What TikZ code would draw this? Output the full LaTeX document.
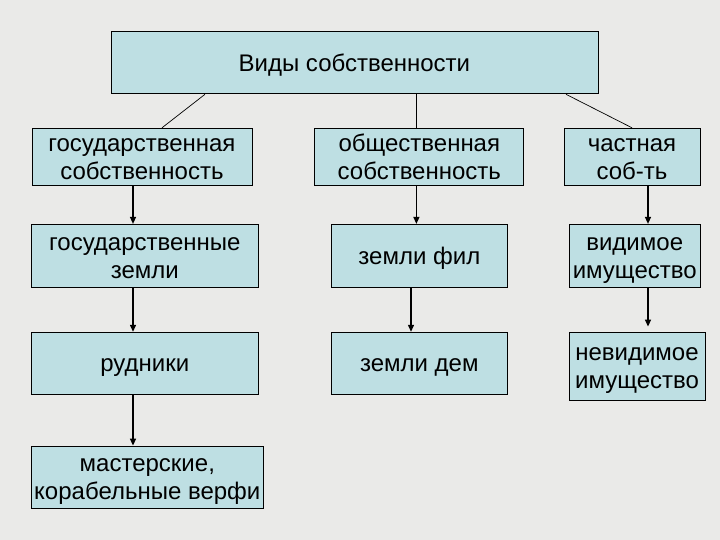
\documentclass[tikz,border=0pt]{standalone}
\usepackage{fontspec}
\setmainfont{Liberation Sans}
\usepackage{xcolor}
\usepackage{tikz}
\usetikzlibrary{arrows.meta}
\definecolor{bg}{HTML}{EAEAE8}
\definecolor{boxfill}{HTML}{BEDFE3}
\newcommand{\boxtext}[1]{\raisebox{-3pt}[\height][\depth]{\begin{tabular}{@{}c@{}}#1\end{tabular}}}
\tikzset{
  box/.style={draw=black, fill=boxfill, line width=0.8pt, inner sep=0pt, font=\fontsize{24}{28}\selectfont},
  line/.style={draw=black, line width=0.7pt},
  arr/.style={draw=black, line width=1.3pt, -{Triangle[width=6pt,length=7pt]}}
}
\begin{document}
\begin{tikzpicture}[x=1pt,y=-1pt]
  \fill[bg] (0,0) rectangle (720,540);
  \useasboundingbox (0,0) rectangle (720,540);

  \node[box, minimum width=487pt, minimum height=62pt] (vid) at (354.4,62.9) {\boxtext{Виды собственности}};

  \node[box, minimum width=220pt, minimum height=57pt] (gos) at (141.9,156.7) {\boxtext{государственная\\собственность}};
  \node[box, minimum width=209pt, minimum height=57pt] (obs) at (419.3,156.7) {\boxtext{общественная\\собственность}};
  \node[box, minimum width=136pt, minimum height=57pt] (cha) at (632,156.7) {\boxtext{частная\\соб-ть}};

  \node[box, minimum width=227pt, minimum height=63pt] (gzem) at (144.9,255.8) {\boxtext{государственные\\земли}};
  \node[box, minimum width=176pt, minimum height=63pt] (zfil) at (419.4,255.8) {\boxtext{земли фил}};
  \node[box, minimum width=131pt, minimum height=63pt] (vidim) at (634.7,255.8) {\boxtext{видимое\\имущество}};

  \node[box, minimum width=227pt, minimum height=62pt] (rud) at (144.8,363.2) {\boxtext{рудники}};
  \node[box, minimum width=176pt, minimum height=62pt] (zdem) at (419.3,363.2) {\boxtext{земли дем}};
  \node[box, minimum width=136pt, minimum height=68pt] (nevid) at (637,366) {\boxtext{невидимое\\имущество}};

  \node[box, minimum width=232pt, minimum height=62pt] (mast) at (147.3,477) {\boxtext{мастерские,\\корабельные верфи}};

  \coordinate (la) at (205,0);
  \coordinate (lb) at (162,0);
  \coordinate (ma) at (416.4,0);
  \coordinate (ra) at (566,0);
  \coordinate (rb) at (632,0);
  \coordinate (c1) at (133,0);
  \coordinate (c2) at (416.4,0);
  \coordinate (c2b) at (411,0);
  \coordinate (c3) at (648,0);

  \draw[line] (vid.south -| la) -- (gos.north -| lb);
  \draw[line] (vid.south -| ma) -- (obs.north -| ma);
  \draw[line] (vid.south -| ra) -- (cha.north -| rb);

  \draw[arr] (gos.south -| c1) -- (gzem.north -| c1);
  \draw[arr] (gzem.south -| c1) -- (rud.north -| c1);
  \draw[arr] (rud.south -| c1) -- (mast.north -| c1);
  \draw[arr] (obs.south -| c2) -- (zfil.north -| c2);
  \draw[arr] (zfil.south -| c2b) -- (zdem.north -| c2b);
  \draw[arr] (cha.south -| c3) -- (vidim.north -| c3);
  \draw[arr, shorten >=5pt] (vidim.south -| c3) -- (nevid.north -| c3);
\end{tikzpicture}
\end{document}
